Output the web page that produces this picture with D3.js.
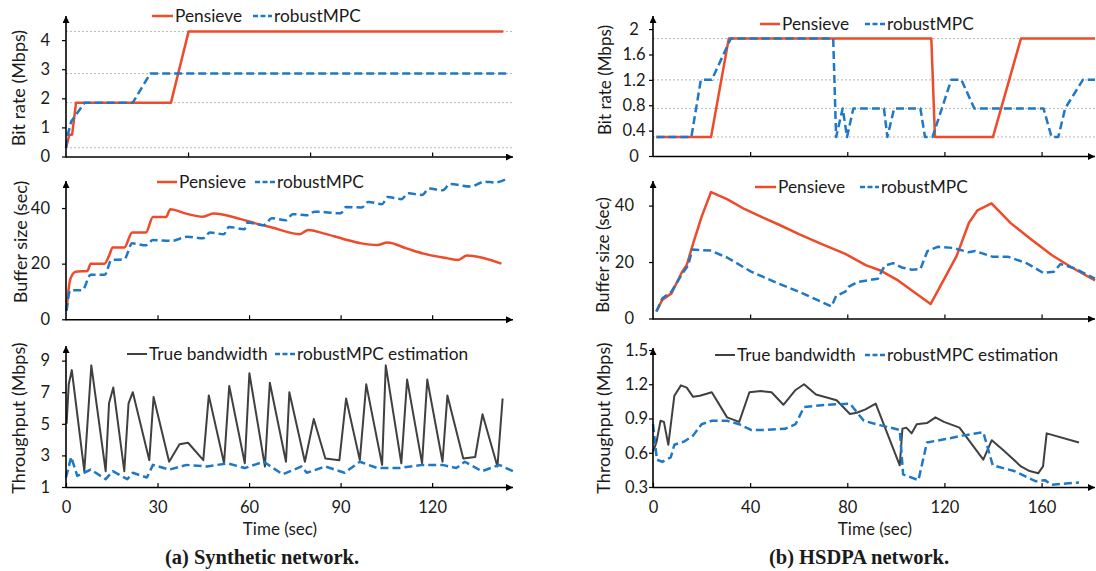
<!DOCTYPE html>
<html>
<head>
<meta charset="utf-8">
<script src="https://cdn.jsdelivr.net/npm/d3@7"></script>
<style>
body{margin:0;background:#fff;}
svg text{font-family:Lato,"Open Sans",sans-serif;fill:#1a1a1a;}
.cap{font-family:"Liberation Serif","DejaVu Serif",serif !important;font-weight:bold;}
</style>
</head>
<body>
<svg id="chart" width="1096" height="571"></svg>
<script>
// ---- (a) synthetic network ----
var aRateTPen=[0,1.1,2.0,3.3,34.4,40.2,143.3];
var aRatePen=[0.3,0.75,0.75,1.85,1.85,4.3,4.3];
var aRateTMpc=[0,0.6,1.7,6.1,21.9,27.6,144.7];
var aRateMpc=[0.3,0.75,1.2,1.85,1.85,2.85,2.85];

var aBufTPen=[0.2,1.4,3.2,7.0,8.1,12.6,14.1,15.3,19.1,21.7,26.2,28.5,32.8,34.2,39.3,44.9,48.3,57.3,62.4,67.5,76.6,79.4,84.4,91.2,96.8,102,105.4,111.6,117.2,125.1,128.5,131.4,142.7];
var aBufPen=[3.6,14.4,17.1,17.4,20,20,22.8,25.8,25.8,31.2,31.2,36.8,36.8,39.6,38,36.9,38,36,34.4,33,30.6,32.1,30.9,28.8,27.3,26.7,27.6,25.5,23.6,21.9,21.3,22.9,20];
var aBufTMpc=[0.2,1.4,5.3,8.1,12.7,14.9,19.1,21.7,26.2,28.5,34.7,39.8,44.9,47.2,51.7,53.4,58.5,59.5,64.7,67.5,72.1,74.3,78.8,81.6,90,91.8,96.9,99.1,103.6,105.4,109.9,112.2,116.7,119,123.5,125.8,132.6,137.2,140.6,144.3];
var aBufMpc=[3,10.4,10.4,16,16,21.3,21.6,27.3,26.6,28.5,28.2,29.7,29.1,31.2,30.6,33.2,32.4,34.8,33.8,36.3,35.6,37.8,37.4,38.7,38.1,40.4,40.2,42.2,41.4,44,43.2,45.3,44.7,47,46.4,48.6,47.7,49.5,49.2,50.4];

var aBwT=[0.2,0.9,1.9,6.0,8.3,13,14.1,15.5,19.1,20.5,21.9,27.3,28.7,33.8,37.2,40,45,46.8,51.8,53.5,58.6,60.1,65.2,66.8,72.1,73.2,78.3,81.2,85,89.6,91.8,96.3,98.4,103.6,104.8,109.9,111.8,116.7,118.4,123.4,125,130.2,134.1,136.5,141.4,143.1];
var aBw=[5.0,7.5,8.4,2,8.7,2,6.3,7.3,2,6.3,7,2.7,6.7,2.6,3.7,3.8,2.7,6.8,2.5,7.4,2.5,8.2,2.3,7.6,2.6,7.0,2.6,5.3,2.8,2.7,6.6,2.7,7.5,2.4,8.7,2.5,7.8,2.5,7.8,2.6,6.8,2.8,2.9,5.6,2.3,6.6];
var aEstT=[0,1.7,3.7,8.1,13,15.3,20.1,21.9,26.5,28.5,33.8,39.5,46.2,53,58.6,64.8,71,77.2,78.9,85,91.3,96.3,102,109.3,116.7,123.4,127.9,130.7,136.3,142,146.5];
var aEst=[1.6,2.9,1.7,2.1,1.5,2.0,1.5,1.9,1.6,2.4,2.1,2.4,2.3,2.5,2.2,2.6,1.8,2.3,1.9,2.3,1.9,2.6,2.2,2.2,2.4,2.4,2.2,2.6,2.0,2.4,2.0];

// ---- (b) HSDPA network ----
var bRateTPen=[1.4,23.9,31.2,114.6,116.1,140,151.5,182];
var bRatePen=[0.3,0.3,1.85,1.85,0.3,0.3,1.85,1.85];
var bRateTMpc=[1.4,15.8,19.7,24.2,32,74.2,75.4,78.1,79.9,82.5,95.1,96.5,99.3,110.1,112,115.1,122.8,127,132.3,160.8,164.1,166.9,169.7,177,182];
var bRateMpc=[0.3,0.3,1.2,1.2,1.85,1.85,0.3,0.75,0.3,0.75,0.75,0.3,0.75,0.75,0.3,0.3,1.2,1.2,0.75,0.75,0.3,0.3,0.75,1.2,1.2];

var bBufTPen=[1.4,3.8,7.6,11.9,13.9,16.8,20,23.9,30.5,37.6,45.3,51.7,60.1,70,79.2,87.6,93.9,100.9,114.3,125,130.1,133.6,139.4,147.4,155.9,164.3,172.8,182];
var bBufPen=[2.5,6.6,8.9,16.4,19,27.3,36,44.8,42.3,38.8,35.7,33.3,29.9,26.2,22.9,18.9,16.9,13.5,5.1,22.1,33.9,38.3,40.8,33.7,27.9,22.4,17.9,13.5];
var bBufTMpc=[1.4,3.8,7.6,12,14.4,16.2,23.5,30.5,40.4,50.3,61.6,73.5,75.4,79.2,80.5,84.1,92.6,95.4,98.9,102.4,106.6,110.1,113,117.2,123.5,129.9,132.7,139.7,146.1,153.8,160.8,165.1,167.8,173.5,182];
var bBufMpc=[2.5,7.1,9.5,15.8,18.7,24.4,24.1,21.6,16.6,12.9,8.9,4.3,8,9.5,11.2,12.9,14.1,18.7,19.6,18.1,17.3,17.5,23.9,25.4,25,23.5,23.9,21.9,21.9,19.6,16.1,16.6,19.3,17.8,14.1];

var bBwT=[0,1.4,3.1,4.5,6.3,8.8,11.5,13.9,16.5,19.3,24.2,30.5,35.5,39.7,44.5,48.8,53.7,58.7,62.2,67.1,75.6,81.1,83.9,87.5,91.7,101.6,102.7,104.3,106.5,108.6,112.8,116.3,119.8,126.2,136,139.5,144.4,151.5,155.1,158.6,160.6,162.1,175.4];
var bBw=[0.61,0.69,0.88,0.87,0.67,1.10,1.19,1.17,1.09,1.10,1.13,0.91,0.87,1.13,1.14,1.13,1.02,1.15,1.20,1.11,1.06,0.94,0.95,0.98,1.03,0.49,0.81,0.82,0.77,0.85,0.86,0.91,0.87,0.82,0.54,0.71,0.62,0.48,0.44,0.42,0.48,0.77,0.69];
var bEstT=[0,1.6,3.8,7.3,8.8,13,16.5,20,24.2,30.5,35.5,40.4,46,54.4,58.7,62.2,71.3,81.1,86.8,93.8,101.6,103,109.3,112.8,120.5,127.5,136,139.9,148.7,157.7,161.4,164.1,175.4];
var bEst=[0.85,0.54,0.52,0.56,0.67,0.70,0.75,0.85,0.88,0.88,0.85,0.80,0.80,0.81,0.85,1.00,1.02,1.03,0.88,0.84,0.80,0.41,0.36,0.69,0.72,0.75,0.78,0.49,0.44,0.35,0.36,0.32,0.34];

// tick labels / levels
var aRateTicks=[0,1,2,3,4], aRateGrid=[0.3,1.85,2.85,4.3];
var bRateTicks=[0,0.4,0.8,1.2,1.6,2], bRateGrid=[0.3,0.75,1.2,1.85];
var bufTicks=[0,20,40];
var aBwTicks=[1,3,5,7,9], bBwTicks=[0.3,0.6,0.9,1.2,1.5];
var aTimeTicks=[0,30,60,90,120], bTimeTicks=[0,40,80,120,160];

var RED='#EE4B2B', BLUE='#1E78C6', GRAY='#404040';
var svg=d3.select('#chart');

svg.append('defs').append('marker')
  .attr('id','arr').attr('viewBox','0 0 10 10').attr('refX',10).attr('refY',5)
  .attr('markerWidth',7).attr('markerHeight',7).attr('markerUnits','userSpaceOnUse')
  .attr('orient','auto')
  .append('path').attr('d','M0,0L10,5L0,10z').attr('fill','#000');

var xa=d3.scaleLinear().domain([0,146.5]).range([66,513]);
var xb=d3.scaleLinear().domain([0,182]).range([653,1095]);

function zip(t,v){ return t.map(function(d,i){return [d,v[i]];}); }

function panel(o){
  var g=svg.append('g');
  var x=o.x, y=o.y;
  var y0=y.range()[0];
  // dotted level lines
  (o.grid||[]).forEach(function(v){
    g.append('line').attr('x1',x.range()[0]).attr('x2',x.range()[1])
      .attr('y1',y(v)).attr('y2',y(v))
      .attr('stroke','#b8b8b8').attr('stroke-width',1).attr('stroke-dasharray','2,2');
  });
  // series
  o.series.forEach(function(s){
    var ln=d3.line().x(function(d){return x(d[0]);}).y(function(d){return y(d[1]);})
      .curve(s.smooth?d3.curveMonotoneX:d3.curveLinear);
    g.append('path').datum(zip(s.t,s.v)).attr('d',ln)
      .attr('fill','none').attr('stroke',s.color).attr('stroke-width',s.w||2.5)
      .attr('stroke-dasharray',s.dash?'8,4':null).attr('stroke-linejoin','round');
  });
  // y axis
  var ya=g.append('g').attr('transform','translate('+x.range()[0]+',0)')
    .call(d3.axisLeft(y).tickValues(o.yTicks).tickSize(4).tickSizeOuter(0).tickPadding(o.pad)
      .tickFormat(o.yFmt||d3.format('')));
  ya.select('.domain').remove();
  ya.selectAll('line').attr('stroke','#000').attr('stroke-width',1.2);
  ya.selectAll('text').style('font-size','16.5px').attr('fill','#1a1a1a');
  if(o.yAnchor) ya.selectAll('text').attr('text-anchor',o.yAnchor).attr('x',o.yAnchorX);
  // x axis
  var xg=g.append('g').attr('transform','translate(0,'+y0+')')
    .call(d3.axisBottom(x).tickValues(o.xTicks).tickSize(-4).tickSizeOuter(0).tickPadding(18)
      .tickFormat(o.xLabels?d3.format('d'):''));
  xg.select('.domain').remove();
  xg.selectAll('line').attr('stroke','#000').attr('stroke-width',1.2);
  xg.selectAll('text').style('font-size','16.5px').attr('fill','#1a1a1a').attr('dy','0.5em');
  // axis lines with arrow heads
  g.append('line').attr('x1',x.range()[0]).attr('y1',y0+0.5).attr('x2',x.range()[1]).attr('y2',y0+0.5)
    .attr('stroke','#000').attr('stroke-width',1.6).attr('marker-end','url(#arr)');
  g.append('line').attr('x1',x.range()[0]).attr('y1',y0+1).attr('x2',x.range()[0]).attr('y2',o.top)
    .attr('stroke','#000').attr('stroke-width',1.6).attr('marker-end','url(#arr)');
  // y title
  g.append('text').attr('transform','translate('+o.title[1]+','+o.title[2]+') rotate(-90)')
    .attr('text-anchor','middle').attr('dy','0.35em').style('font-size',o.titleSize||'18px').text(o.title[0]);
  // legend
  o.legend.forEach(function(l){
    g.append('line').attr('x1',l[0]).attr('x2',l[1]).attr('y1',l[3]).attr('y2',l[3])
      .attr('stroke',l[4]).attr('stroke-width',l[4]==GRAY?2:2.5).attr('stroke-dasharray',l[5]?'5,2.5':null);
    g.append('text').attr('x',l[1]+2).attr('y',l[3]).attr('dy','0.35em')
      .style('font-size','17.3px').text(l[2]);
  });
}

// (a) bit rate
panel({x:xa, y:d3.scaleLinear().domain([0,4.75]).range([156.5,18.3]), top:16,
  grid:aRateGrid, yTicks:aRateTicks, pad:12, xTicks:[40,80,120], xLabels:false,
  title:['Bit rate (Mbps)',19,88],
  series:[{t:aRateTPen,v:aRatePen,color:RED},{t:aRateTMpc,v:aRateMpc,color:BLUE,dash:1}],
  legend:[[152,173,'Pensieve',16,RED,0],[253,272,'robustMPC',16,BLUE,1]]});
// (a) buffer
panel({x:xa, y:d3.scaleLinear().domain([0,49]).range([319.3,183]), top:181,
  yTicks:bufTicks, pad:12, xTicks:[30,60,90,120], xLabels:false,
  title:['Buffer size (sec)',21,242],
  series:[{t:aBufTPen,v:aBufPen,color:RED,smooth:1},{t:aBufTMpc,v:aBufMpc,color:BLUE,dash:1,smooth:1}],
  legend:[[157,177,'Pensieve',182,RED,0],[255,275,'robustMPC',182,BLUE,1]]});
// (a) throughput
panel({x:xa, y:d3.scaleLinear().domain([1,9.8]).range([487,348]), top:346,
  yTicks:aBwTicks, pad:12, xTicks:aTimeTicks, xLabels:true,
  title:['Throughput (Mbps)',19,418],
  series:[{t:aBwT,v:aBw,color:GRAY,w:2},{t:aEstT,v:aEst,color:BLUE,dash:1}],
  legend:[[127,147,'True bandwidth',354,GRAY,0],[275,295,'robustMPC estimation',354,BLUE,1]]});

// (b) bit rate
panel({x:xb, y:d3.scaleLinear().domain([0,2.175]).range([156,18]), top:16,
  grid:bRateGrid, yTicks:bRateTicks, pad:12, yAnchor:'middle', yAnchorX:-19,
  yFmt:function(d){return d===0||d===2?d:d3.format('.1f')(d);},
  xTicks:[40,80,120,160], xLabels:false, titleSize:'17px',
  title:['Bit rate (Mbps)',605,80],
  series:[{t:bRateTPen,v:bRatePen,color:RED},{t:bRateTMpc,v:bRateMpc,color:BLUE,dash:1}],
  legend:[[760,780,'Pensieve',24,RED,0],[865,885,'robustMPC',24,BLUE,1]]});
// (b) buffer
panel({x:xb, y:d3.scaleLinear().domain([0,48]).range([318.5,183]), top:181,
  yTicks:bufTicks, pad:12, yAnchor:'end', yAnchorX:-19, xTicks:[40,80,120,160], xLabels:false,
  titleSize:'17px', title:['Buffer size (sec)',603,255],
  series:[{t:bBufTPen,v:bBufPen,color:RED},{t:bBufTMpc,v:bBufMpc,color:BLUE,dash:1}],
  legend:[[755,776,'Pensieve',187,RED,0],[860,879,'robustMPC',187,BLUE,1]]});
// (b) throughput
panel({x:xb, y:d3.scaleLinear().domain([0.3,1.5]).range([487,350]), top:348,
  yTicks:bBwTicks, pad:12, yAnchor:'end', yAnchorX:-5, yFmt:d3.format('.1f'),
  xTicks:bTimeTicks, xLabels:true,
  title:['Throughput (Mbps)',604,418],
  series:[{t:bBwT,v:bBw,color:GRAY,w:2},{t:bEstT,v:bEst,color:BLUE,dash:1}],
  legend:[[715,735,'True bandwidth',355,GRAY,0],[865,885,'robustMPC estimation',355,BLUE,1]]});

// x titles and captions
svg.append('text').attr('x',280).attr('y',535).attr('text-anchor','middle').style('font-size','17px').text('Time (sec)');
svg.append('text').attr('x',875).attr('y',535).attr('text-anchor','middle').style('font-size','17px').text('Time (sec)');
svg.append('text').attr('class','cap').attr('x',262).attr('y',564).attr('text-anchor','middle').style('font-size','20.5px').text('(a) Synthetic network.');
svg.append('text').attr('class','cap').attr('x',859).attr('y',564).attr('text-anchor','middle').style('font-size','20.5px').text('(b) HSDPA network.');
</script>
</body>
</html>
